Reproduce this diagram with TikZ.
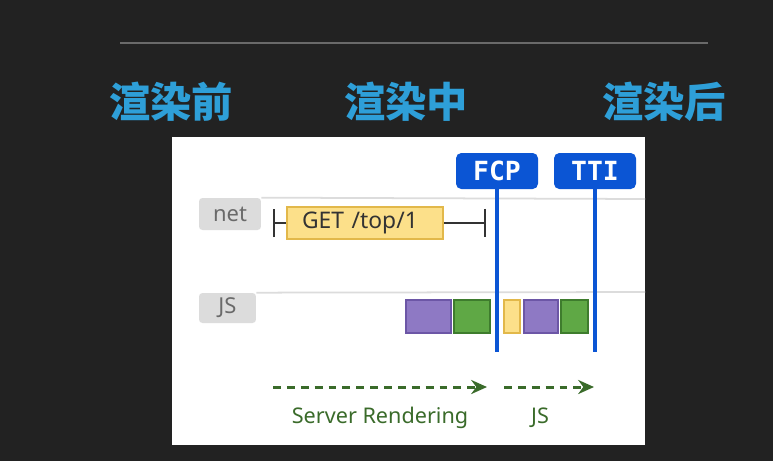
\documentclass[tikz,border=0pt]{standalone}
\usepackage{fontspec}
\setmainfont{Noto Sans}
\newfontfamily\cjk{Noto Sans CJK SC}
\newfontfamily\monofont{DejaVu Sans Mono}
\usepackage{xcolor}
\usetikzlibrary{positioning,arrows.meta}
\definecolor{bgslide}{HTML}{222222}
\definecolor{rulegray}{HTML}{6A6A6A}
\definecolor{titleblue}{HTML}{2E9FD8}
\definecolor{markblue}{HTML}{0B55D4}
\definecolor{lanegray}{HTML}{DCDCDC}
\definecolor{lanetext}{HTML}{6A6A6A}
\definecolor{taskyellow}{HTML}{FCE08A}
\definecolor{edgeyellow}{HTML}{E2B84A}
\definecolor{taskpurple}{HTML}{8E79C4}
\definecolor{edgepurple}{HTML}{6C56A6}
\definecolor{taskgreen}{HTML}{5FA845}
\definecolor{edgegreen}{HTML}{3E7C2D}
\definecolor{phasegreen}{HTML}{3A6B2A}

\begin{document}
\begin{tikzpicture}[
        x=0.02cm, y=-0.02cm,
        title/.style={
            text=titleblue,
            font=\cjk\bfseries\fontsize{23.5}{28}\selectfont,
            inner sep=0pt
        },
        lane/.style={
            fill=lanegray,
            text=lanetext,
            rounded corners=2pt,
            inner sep=0pt,
            font=\fontsize{12.5}{15}\selectfont
        },
        marker/.style={
            fill=markblue,
            text=white,
            rounded corners=3pt,
            minimum width=1.64cm,
            minimum height=0.72cm,
            inner sep=0pt,
            font=\monofont\bfseries\fontsize{15}{17}\selectfont
        },
        task/.style={
            draw=edge#1,
            fill=task#1,
            line width=0.6pt,
            minimum height=0.66cm,
            inner sep=0pt
        },
        timeline/.style={
            markblue,
            line width=2.4pt
        },
        phase/.style={
            phasegreen,
            line width=1.7pt,
            dash pattern=on 4.5pt off 3.4pt,
            -{Stealth[length=9pt,width=8pt]}
        },
        phaselabel/.style={
            text=phasegreen,
            font=\fontsize{12.3}{15}\selectfont
        }
    ]
        % slide
        \fill[bgslide] (0,0) rectangle (773,461);
        \useasboundingbox (0,0) rectangle (773,461);
        \draw[rulegray, line width=1.2pt] (120,43) -- (708,43);

        \node[title] (before) at (171,102) {渲染前};
        \node[title] (during) at (406,102) {渲染中};
        \node[title] (after) at (664,102) {渲染后};

        % panel
        \fill[white] (172,137) rectangle (645,445);

        % lanes
        \node[lane, minimum width=1.24cm, minimum height=0.64cm] (net) at (230,214) {net};
        \node[lane, minimum width=1.14cm, minimum height=0.60cm] (js) at (227.5,308) {JS};
        \coordinate (netend) at (645,199);
        \coordinate (jsend) at (645,292);
        \draw[lanegray, line width=1pt] (net.north east) -- (netend);
        \draw[lanegray, line width=1pt] (js.north east) -- (jsend);

        % request
        \coordinate (reqstart) at (273,223);
        \coordinate (reqend) at (486,223);
        \draw[black!80, line width=1.1pt, {Bar[width=16pt]}-{Bar[width=16pt]}] (reqstart) -- (reqend);
        \node[task=yellow, minimum height=0.64cm, inner xsep=0.3cm, text width=2.52cm, align=left,
              font=\fontsize{13}{15}\selectfont, text=black!80] (get) at (365,223) {GET /top/1};

        % js tasks
        \node[task=purple, minimum width=0.90cm] (p1) at (428.5,316.5) {};
        \node[task=green,  minimum width=0.72cm] (g1) at (472,316.5) {};
        \node[task=yellow, minimum width=0.32cm] (y1) at (512,316.5) {};
        \node[task=purple, minimum width=0.68cm] (p2) at (541,316.5) {};
        \node[task=green,  minimum width=0.54cm] (g2) at (574.5,316.5) {};

        % markers
        \node[marker] (fcp) at (497,171) {FCP};
        \node[marker] (tti) at (595,171) {TTI};
        \coordinate (fcpend) at (497,352);
        \coordinate (ttiend) at (595,352);
        \draw[timeline] (fcp.south) -- (fcpend);
        \draw[timeline] (tti.south) -- (ttiend);

        % phases
        \coordinate (srstart) at (273,387);
        \coordinate (srend) at (487,387);
        \coordinate (jsstart) at (504,387);
        \coordinate (jsfinish) at (594,387);
        \draw[phase] (srstart) -- (srend);
        \draw[phase] (jsstart) -- (jsfinish);
        \node[phaselabel] (srlabel) at (380,418) {Server Rendering};
        \node[phaselabel] (jslabel) at (540,418) {JS};
    \end{tikzpicture}
\end{document}
